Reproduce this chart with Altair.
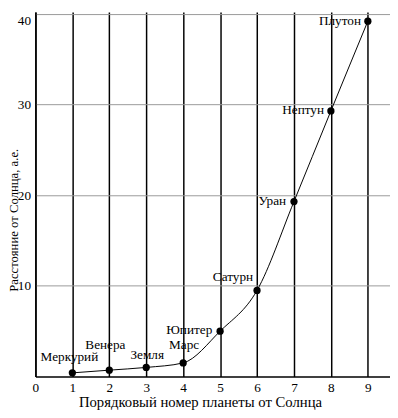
import altair as alt
import pandas as pd

planets = ["Меркурий", "Венера", "Земля", "Марс", "Юпитер", "Сатурн", "Уран", "Нептун", "Плутон"]
order = [1, 2, 3, 4, 5, 6, 7, 8, 9]
distance = [0.4, 0.7, 1.0, 1.5, 5.0, 9.5, 19.3, 29.3, 39.2]
x_ticks = [0, 1, 2, 3, 4, 5, 6, 7, 8, 9]
y_ticks = [10, 20, 30, 40]

df = pd.DataFrame({"planet": planets, "n": order, "d": distance})

FONT = "Liberation Serif, Times New Roman, Times, DejaVu Serif, serif"

# label placement (style): (align, dx, dy)
label_style = {
    "Меркурий": ("center", -3, -16),
    "Венера": ("center", -4, -26),
    "Земля": ("center", 1, -13),
    "Марс": ("center", 1, -18),
    "Юпитер": ("right", -8, -1),
    "Сатурн": ("right", -4, -14),
    "Уран": ("right", -8, 0),
    "Нептун": ("right", -7, -1),
    "Плутон": ("right", -7, 0),
}

x_enc = alt.X(
    "n:Q",
    scale=alt.Scale(domain=[0, 9.6], nice=False, zero=False),
    axis=alt.Axis(
        values=x_ticks,
        title="Порядковый номер планеты от Солнца",
        grid=True,
        gridColor="black",
        gridWidth=1.5,
        ticks=False,
        domainColor="black",
        domainWidth=1.5,
        labelFont=FONT,
        labelFontSize=13.5,
        labelColor="black",
        labelPadding=4,
        labelFlush=False,
        titleFont=FONT,
        titleFontSize=15,
        titleFontWeight="normal",
        titleColor="black",
        titleX=168,
        titleY=31,
        titleAlign="center",
        titleBaseline="alphabetic",
    ),
)

y_enc = alt.Y(
    "d:Q",
    scale=alt.Scale(domain=[0, 40.2], nice=False, zero=True),
    axis=alt.Axis(
        values=y_ticks,
        title="Расстояние от Солнца, а.е.",
        grid=True,
        gridColor="#999999",
        gridWidth=1,
        ticks=False,
        domainColor="black",
        domainWidth=1.5,
        labelFont=FONT,
        labelFontSize=13.5,
        labelColor="black",
        labelPadding=5,
        labelFlush=5,
        titleFont=FONT,
        titleFontSize=13,
        titleFontWeight="normal",
        titleColor="black",
        titleAngle=270,
        titleX=-18,
        titleY=212,
        titleAlign="center",
        titleBaseline="alphabetic",
    ),
)

base = alt.Chart(df)

line = base.mark_line(interpolate="monotone", color="black", strokeWidth=1).encode(x=x_enc, y=y_enc)
points = base.mark_circle(size=55, color="black", opacity=1).encode(x="n:Q", y="d:Q")

labels = []
for name, (al, dx, dy) in label_style.items():
    labels.append(
        base.transform_filter(alt.datum.planet == name)
        .mark_text(font=FONT, fontSize=13.5, color="black", align=al, baseline="middle", dx=dx, dy=dy)
        .encode(x="n:Q", y="d:Q", text="planet:N")
    )

chart = alt.layer(line, points, *labels).properties(
    width=362,
    height=372,
    padding={"left": 28, "top": 0, "right": 0, "bottom": 30},
    autosize=alt.AutoSizeParams(type="none"),
    background="white",
).configure_view(strokeWidth=0)

chart.save("out.html", embed_options={"renderer": "svg", "actions": False})
